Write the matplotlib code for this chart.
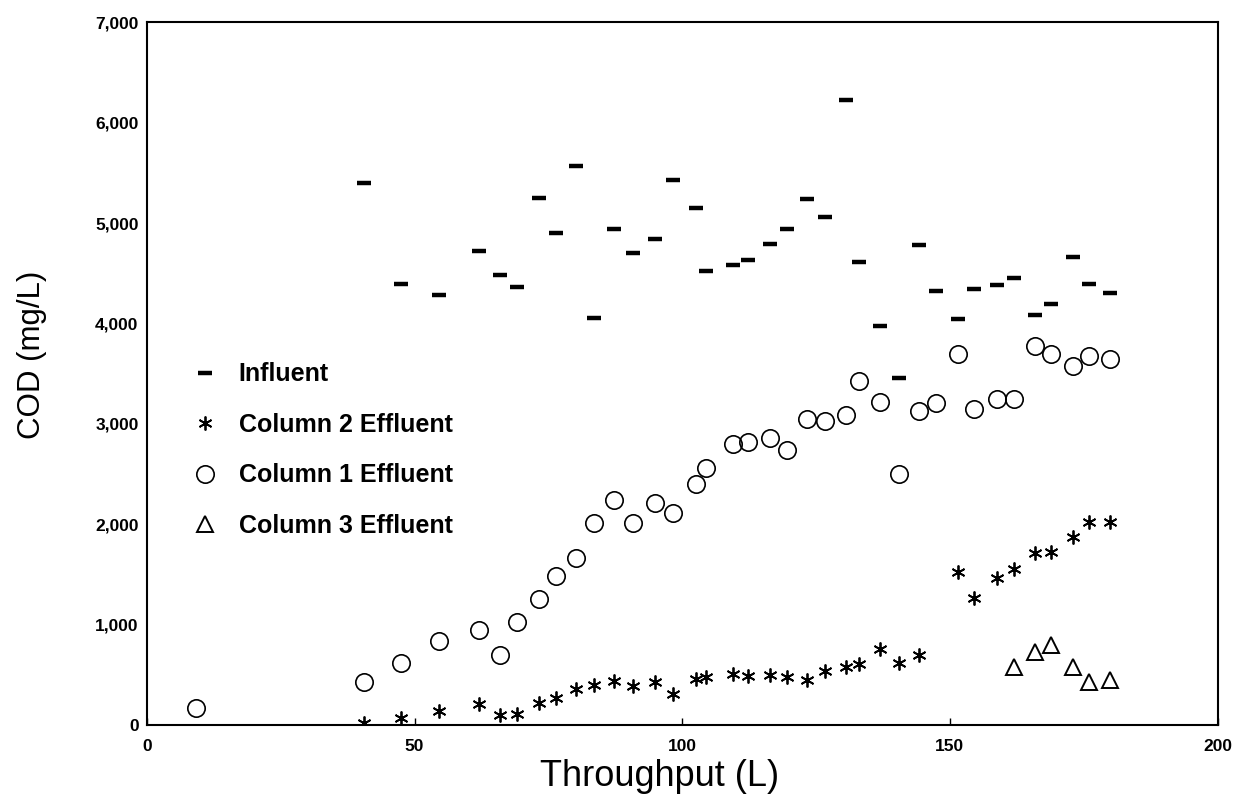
import numpy as np
from matplotlib import pyplot as plt
from matplotlib.ticker import FuncFormatter

# throughput (L) for the sampling points shared by all series
throughput = [40.5, 47.4, 54.5, 62.0, 66.0, 69.2, 73.2, 76.5, 80.2, 83.5,
              87.3, 90.8, 95.0, 98.2, 102.5, 104.4, 109.4, 112.3, 116.3, 119.6,
              123.3, 126.6, 130.5, 133.0, 137.0, 140.5, 144.2, 147.4, 151.5, 154.5,
              158.7, 161.9, 165.8, 168.9, 172.9, 176.0, 179.9]

influent = [5400, 4390, 4280, 4720, 4480, 4360, 5250, 4905, 5565, 4055,
            4940, 4705, 4840, 5425, 5150, 4525, 4580, 4635, 4795, 4945,
            5235, 5060, 6230, 4610, 3975, 3460, 4785, 4325, 4045, 4340,
            4385, 4450, 4085, 4195, 4660, 4395, 4305]

col2_effluent = [20, 70, 139, 208, 100, 112, 222, 272, 355, 398,
                 441, 388, 425, 309, 455, 475, 508, 488, 495, 481,
                 448, 541, 581, 604, 754, 621, 697, 1523, 1261, 1461,
                 1557, 1710, 1720, 1875, 2018, 2018]
col2_x = throughput[:27] + throughput[28:]

col1_x = [9.2] + throughput
col1_effluent = [173, 431, 620, 839, 946, 697, 1029, 1252, 1481, 1660, 2008,
                 2240, 2014, 2207, 2114, 2400, 2556, 2798, 2821, 2858, 2738,
                 3044, 3030, 3084, 3422, 3219, 2496, 3130, 3203, 3691, 3150,
                 3243, 3246, 3777, 3697, 3578, 3671, 3647]

col3_x = [161.9, 165.8, 168.9, 172.9, 176.0, 179.9]
col3_effluent = [574, 730, 793, 574, 431, 448]

plt.rcParams['font.family'] = ['Liberation Sans', 'DejaVu Sans']

fig = plt.figure(figsize=(12.45, 7.94), dpi=100)
ax = fig.add_axes([0.118, 0.087, 0.86, 0.885])

ax.plot(throughput, influent, ls='none', marker='_', ms=10, mew=3.2,
        color='black', label='Influent')
ax.plot(col2_x, col2_effluent, ls='none', marker=(6, 2, 0), ms=10, mew=1.3,
        color='black', label='Column 2 Effluent')
ax.plot(col1_x, col1_effluent, ls='none', marker='o', ms=12.5, mew=1.2,
        mfc='none', color='black', label='Column 1 Effluent')
ax.plot(col3_x, col3_effluent, ls='none', marker='^', ms=11, mew=1.4,
        mfc='none', color='black', label='Column 3 Effluent')

ax.set_xlim(0, 200)
ax.set_ylim(0, 7000)
ax.set_xticks(np.arange(0, 201, 50))
ax.set_yticks(np.arange(0, 7001, 1000))
ax.yaxis.set_major_formatter(FuncFormatter(lambda v, p: f'{int(v):,}'))
ax.tick_params(axis='x', direction='in', length=5, width=1, pad=10,
               labelsize=12.5)
ax.tick_params(axis='y', direction='in', length=0, pad=6, labelsize=12.5)
for lab in ax.get_xticklabels() + ax.get_yticklabels():
    lab.set_fontweight('bold')
for sp in ax.spines.values():
    sp.set_linewidth(1.5)

ax.set_xlabel('Throughput (L)', fontsize=26)
ax.set_ylabel('COD (mg/L)', fontsize=22.5)
ax.xaxis.set_label_coords(0.479, -0.048)
ax.yaxis.set_label_coords(-0.093, 0.526)

leg = ax.legend(loc='upper left', bbox_to_anchor=(0.019, 0.548), frameon=False,
                handlelength=1.2, handletextpad=0.75, labelspacing=1.06,
                prop={'size': 18, 'weight': 'bold'})

fig.savefig('out.png', dpi=100)
